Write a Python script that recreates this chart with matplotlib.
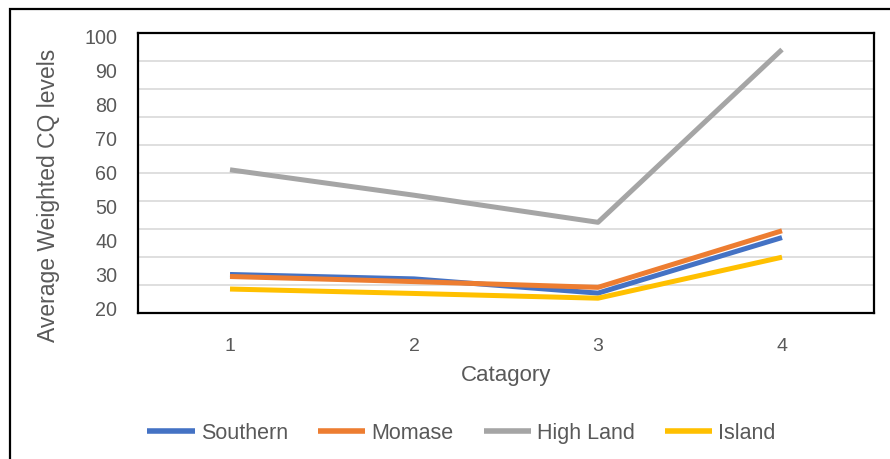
import matplotlib
matplotlib.use("Agg")
import matplotlib.pyplot as plt
from matplotlib.patches import Rectangle

plt.rcParams['font.family'] = ['Liberation Sans', 'DejaVu Sans']

categories = ["1", "2", "3", "4"]
series_names = ["Southern", "Momase", "High Land", "Island"]
southern = [29.6, 28.3, 24.1, 40.5]
momase = [29.0, 27.5, 25.8, 42.5]
high_land = [60.5, 53.0, 45.0, 96.0]
island = [25.3, 24.0, 22.6, 34.7]
colors = ["#4472C4", "#ED7D31", "#A5A5A5", "#FFC000"]
y_ticks = [20, 30, 40, 50, 60, 70, 80, 90, 100]
grid_ticks = [10, 20, 30, 40, 50, 60, 70, 80, 90]

TXT = "#595959"

fig = plt.figure(figsize=(8.9, 4.6), dpi=100)

# background axis carrying the horizontal gridlines and the category axis
axg = fig.add_axes([138/890, 1-314/460, 736/890, 280/460])
axg.set_ylim(0, 100)
axg.set_xlim(-0.5, 3.5)
axg.set_yticks(grid_ticks)
axg.yaxis.grid(True, color="#D9D9D9", linewidth=1.2)
axg.tick_params(axis='y', length=0, labelleft=False)
axg.set_axisbelow(True)
for s in axg.spines.values():
    s.set_visible(False)

x = list(range(len(categories)))
axg.set_xticks(x)
axg.set_xticklabels(categories, fontsize=14, color=TXT)
axg.tick_params(axis='x', length=0, pad=17)
axg.set_xlabel("Catagory", fontsize=16, color=TXT, va='center')
axg.xaxis.set_label_coords(0.5, (314-376)/280)

# data axis
ax = axg.twinx()
ax.yaxis.tick_left()
ax.yaxis.set_label_position('left')
ax.set_ylim(18.23, 100.88)
for name, vals, c in zip(series_names, [southern, momase, high_land, island], colors):
    ax.plot(x, vals, color=c, linewidth=3.6, label=name, solid_capstyle='butt')

ax.set_yticks(y_ticks)
ax.set_yticklabels([str(v) for v in y_ticks], fontsize=14.2, color=TXT)
ax.tick_params(axis='y', length=0, pad=15)
for side in ['left', 'right', 'top', 'bottom']:
    ax.spines[side].set_visible(True)
    ax.spines[side].set_color("black")
    ax.spines[side].set_linewidth(1.6)

ax.set_ylabel("Average Weighted CQ levels", fontsize=16.5, color=TXT, va='center', ha='center')
ax.yaxis.set_label_coords((48-138)/736, (314-195)/280)

leg = fig.legend(loc='center', bbox_to_anchor=(461.5/890, 1-434/460), ncol=4,
                 frameon=False, fontsize=15.5, handlelength=2.2, handletextpad=0.28,
                 columnspacing=1.4, borderpad=0)
for t in leg.get_texts():
    t.set_color(TXT)
for h in leg.get_lines():
    h.set_linewidth(4)

fig.patches.append(Rectangle((10/890, -0.2), 1.5, 1.2 - 10/460, fill=False,
                             edgecolor='black', linewidth=1.6,
                             transform=fig.transFigure, figure=fig))

fig.savefig("out.png", dpi=100)
